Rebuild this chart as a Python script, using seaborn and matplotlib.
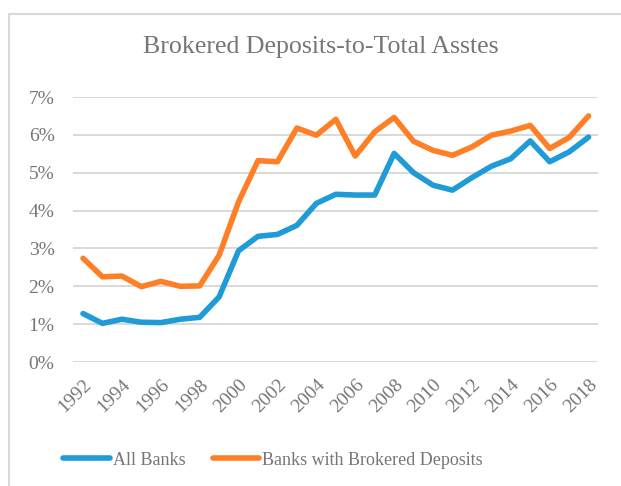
import matplotlib
matplotlib.use("Agg")
import matplotlib.pyplot as plt
import matplotlib.transforms as mtransforms
import seaborn as sns
import pandas as pd
from matplotlib.lines import Line2D
from matplotlib.ticker import FuncFormatter

years = list(range(1992, 2019))
all_banks = [1.28, 1.02, 1.13, 1.05, 1.04, 1.13, 1.18, 1.72, 2.94, 3.32, 3.37, 3.61,
             4.19, 4.43, 4.41, 4.41, 5.51, 5.00, 4.67, 4.54, 4.87, 5.17, 5.37, 5.84,
             5.29, 5.55, 5.94]
brokered = [2.74, 2.25, 2.27, 1.99, 2.13, 2.00, 2.01, 2.82, 4.23, 5.32, 5.29, 6.18,
            5.99, 6.41, 5.44, 6.08, 6.46, 5.83, 5.59, 5.46, 5.68, 5.99, 6.10, 6.25,
            5.64, 5.93, 6.50]
series_names = ["All Banks", "Banks with Brokered Deposits"]
colors = ["#1F9BD7", "#FF7F27"]
title = "Brokered Deposits-to-Total Asstes"
xticks = list(range(1992, 2019, 2))
yticks = list(range(0, 8))

df = pd.DataFrame({
    "Year": years * 2,
    "Value": all_banks + brokered,
    "Series": [series_names[0]] * len(years) + [series_names[1]] * len(years),
})

sns.set_style("white")
plt.rcParams["font.family"] = ["Liberation Serif", "DejaVu Serif"]
text_color = "#767676"

fig = plt.figure(figsize=(6.21, 4.86), dpi=100)
ax = fig.add_axes([73.3 / 621, (486 - 362) / 486, (598.3 - 73.3) / 621, (362 - 97) / 486])

for y in yticks:
    ax.axhline(y, color="#D9D9D9", lw=1.4, zorder=0)

sns.lineplot(data=df, x="Year", y="Value", hue="Series", palette=colors,
             linewidth=4.0, ax=ax, legend=False, solid_capstyle="round", zorder=3)

ax.set_xlim(1991.5, 2018.5)
ax.set_ylim(0, 7)
ax.set_xticks(xticks)
ax.set_xticklabels([str(x) for x in xticks], rotation=45, ha="right",
                   rotation_mode="anchor", fontsize=14, color=text_color)
shift = mtransforms.ScaledTranslation(-0.05, 0, fig.dpi_scale_trans)
for lab in ax.get_xticklabels():
    lab.set_transform(lab.get_transform() + shift)
ax.set_yticks(yticks)
ax.yaxis.set_major_formatter(FuncFormatter(lambda v, p: f"{int(v)}%"))
ax.tick_params(axis="y", labelsize=14, colors=text_color, length=0, pad=13.5)
ax.tick_params(axis="x", length=0, pad=10, colors=text_color)
for lab in ax.get_yticklabels():
    lab.set_color(text_color)
ax.set_xlabel("")
ax.set_ylabel("")
for s in ax.spines.values():
    s.set_visible(False)
ax.grid(False)

fig.text(321 / 621, 1 - 47 / 486, title, ha="center", va="center",
         fontsize=18.6, color=text_color)

handles = [Line2D([0], [0], color=c, lw=4, solid_capstyle="round") for c in colors]
leg = fig.legend(handles, series_names, loc="center", bbox_to_anchor=(273 / 621, 1 - 460 / 486),
                 ncol=2, frameon=False, fontsize=13, handlelength=2.6, handletextpad=0.15,
                 columnspacing=1.5)
for t in leg.get_texts():
    t.set_color(text_color)

# chart area border (top and left visible in crop)
fig.add_artist(Line2D([9 / 621, 9 / 621], [0, 1 - 14.5 / 486], transform=fig.transFigure,
                      color="#D9D9D9", lw=1.5))
fig.add_artist(Line2D([9 / 621, 1], [1 - 14.5 / 486, 1 - 14.5 / 486], transform=fig.transFigure,
                      color="#D9D9D9", lw=1.5))

fig.savefig("out.png", dpi=100, facecolor="white")
